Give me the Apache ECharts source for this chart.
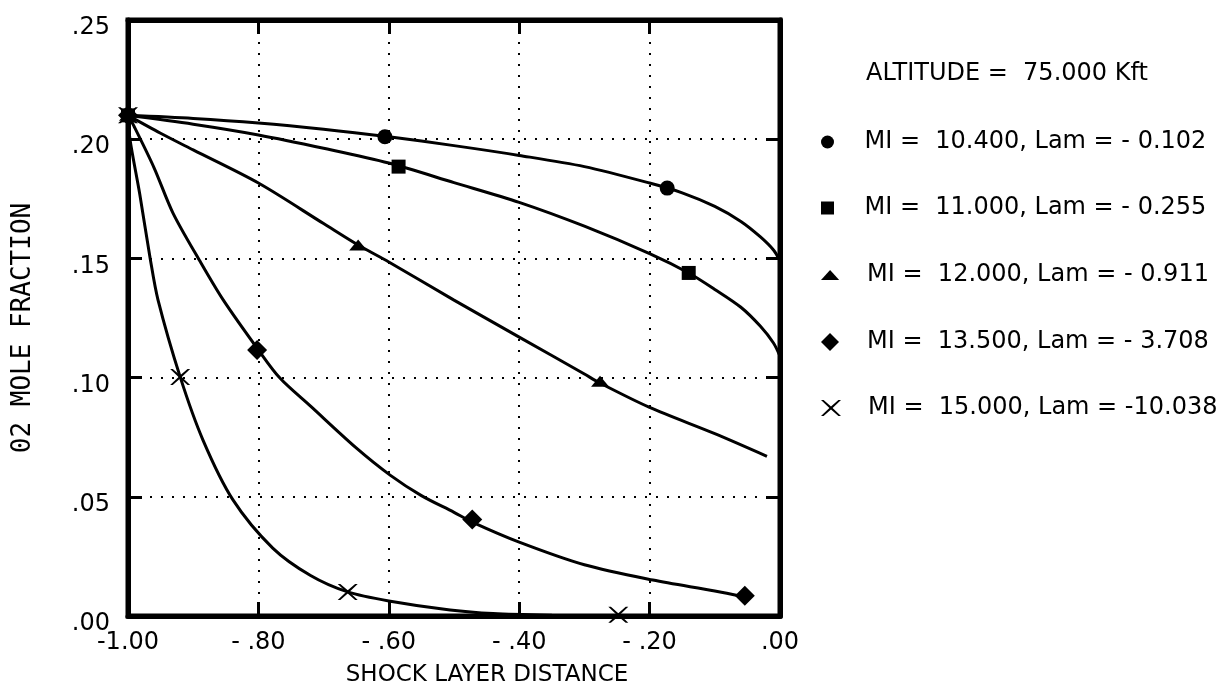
<!DOCTYPE html>
<html>
<head>
<meta charset="utf-8">
<title>O2 mole fraction vs shock layer distance</title>
<script src="https://cdn.jsdelivr.net/npm/echarts@6/dist/echarts.min.js"></script>
<style>
  html, body { margin: 0; padding: 0; background: #fff; }
  #chart { width: 1230px; height: 697px; }
</style>
</head>
<body>
<div id="chart"></div>
<script>
// tick labels
const xTickLabels = ['-1.00', '- .80', '- .60', '- .40', '- .20', '.00'];
const yTickLabels = ['.00', '.05', '.10', '.15', '.20', '.25'];

// legend text
const caseNames = [
  'MI =  10.400, Lam = - 0.102',
  'MI =  11.000, Lam = - 0.255',
  'MI =  12.000, Lam = - 0.911',
  'MI =  13.500, Lam = - 3.708',
  'MI =  15.000, Lam = -10.038'
];

// curves [distance, O2 fraction]
const curve1 = [[-1, 0.21], [-0.9, 0.2087], [-0.8, 0.2068], [-0.7, 0.2042], [-0.6, 0.201], [-0.5, 0.1973],
  [-0.4, 0.1932], [-0.3, 0.1885], [-0.2, 0.1816], [-0.15, 0.1775], [-0.1, 0.1718], [-0.06, 0.1655],
  [-0.03, 0.159], [-0.01, 0.1535], [0, 0.149]];
const curve2 = [[-1, 0.21], [-0.9, 0.2063], [-0.8, 0.2018], [-0.7, 0.1962], [-0.6, 0.19], [-0.5, 0.1818],
  [-0.4, 0.1735], [-0.3, 0.1635], [-0.2, 0.152], [-0.14, 0.1439], [-0.1, 0.137],
  [-0.06, 0.1295], [-0.03, 0.1215], [-0.01, 0.1145], [0, 0.109]];
const curve3 = [[-1, 0.21], [-0.95, 0.2025], [-0.9, 0.1955], [-0.8, 0.1816], [-0.7, 0.1646], [-0.647, 0.1556],
  [-0.6, 0.1485], [-0.5, 0.1325], [-0.4, 0.117], [-0.3, 0.1015], [-0.276, 0.0977], [-0.2, 0.0875],
  [-0.1, 0.0765], [-0.02, 0.067]];
const curve4 = [[-1, 0.21], [-0.99, 0.205], [-0.96, 0.188], [-0.931, 0.169], [-0.89, 0.149], [-0.854, 0.1326],
  [-0.8, 0.1116], [-0.767, 0.0998], [-0.72, 0.088], [-0.65, 0.0705], [-0.598, 0.0591],
  [-0.55, 0.0505], [-0.5, 0.0435], [-0.472, 0.0394], [-0.4, 0.031], [-0.3, 0.0215], [-0.195, 0.0151],
  [-0.1, 0.0105], [-0.054, 0.008]];
const curve5 = [[-1, 0.21], [-0.997, 0.2], [-0.982, 0.177], [-0.966, 0.15], [-0.954, 0.1326],
  [-0.92, 0.1003], [-0.885, 0.0738], [-0.839, 0.0487], [-0.778, 0.0285], [-0.72, 0.017],
  [-0.663, 0.0101], [-0.6, 0.0063], [-0.506, 0.0025], [-0.44, 0.001], [-0.35, 0.0003], [-0.25, 0]];

// plotted symbols
const marks1 = [[-1, 0.21], [-0.606, 0.201], [-0.173, 0.1795]];
const marks2 = [[-1, 0.21], [-0.585, 0.1885], [-0.14, 0.1439]];
const marks3 = [[-1, 0.21], [-0.647, 0.1556], [-0.276, 0.0985]];
const marks4 = [[-1, 0.21], [-0.802, 0.1116], [-0.472, 0.0405], [-0.054, 0.0085]];
const marks5 = [[-1, 0.21], [-0.92, 0.1003], [-0.663, 0.0101], [-0.248, 0.0005]];

const curves = [curve1, curve2, curve3, curve4, curve5];
const marks = [marks1, marks2, marks3, marks4, marks5];

const FONT = 'DejaVu Sans';
const xShape = 'path://M0,0L2.6,0L10,6.4L17.4,0L20,0L11.6,8L20,16L17.4,16L10,9.6L2.6,16L0,16L8.4,8Z';
const symbols = ['circle', 'path://M0,0H10V10H0Z', 'path://M10,0L20,11L0,11Z', 'path://M9,0L18,9L9,18L0,9Z', xShape];
const markSizes = [15, 14, [18, 11], [20, 20], [20, 16]];
const iconHeights = [13, 13, 10, 18, 16];
const legendRows = [142, 208, 275, 342, 408];

const chart = echarts.init(document.getElementById('chart'));

const series = [];
curves.forEach((c, i) => {
  series.push({
    type: 'line',
    name: 'curve' + i,
    data: c,
    showSymbol: false,
    smooth: 0.3,
    lineStyle: { color: '#000', width: 3 },
    silent: true,
    z: 3
  });
});
marks.forEach((m, i) => {
  series.push({
    type: 'scatter',
    name: caseNames[i],
    data: m,
    symbol: symbols[i],
    symbolSize: markSizes[i],
    itemStyle: { color: '#000', opacity: 1 },
    z: 4
  });
});

const legends = caseNames.map((name, i) => ({
  data: [{ name: name, icon: symbols[i] }],
  left: 821,
  top: legendRows[i] - 12,
  padding: 0,
  itemWidth: 64,
  itemHeight: iconHeights[i],
  itemGap: 0,
  selectedMode: false,
  textStyle: { fontFamily: FONT, fontSize: 24, color: '#000', lineHeight: 24 }
}));

const xIdx = v => Math.round((v + 1) / 0.2);
const yIdx = v => Math.round(v / 0.05);

// fresh objects per axis
const tickStyle = () => ({ show: true, inside: true, length: 14, lineStyle: { color: '#000', width: 3 } });
const dotted = () => ({ show: true, lineStyle: { color: '#000', width: 2, type: [2, 9] } });
const frame = () => ({ show: true, onZero: false, lineStyle: { color: '#000', width: 5 } });

chart.setOption({
  backgroundColor: '#fff',
  animation: false,
  title: {
    text: 'ALTITUDE =  75.000 Kft',
    left: 866,
    top: 62,
    padding: 0,
    textStyle: { fontFamily: FONT, fontSize: 24, fontWeight: 'normal', color: '#000' }
  },
  legend: legends,
  grid: {
    left: 128, right: 450, top: 20, bottom: 81,
    show: true, borderColor: '#000', borderWidth: 5, backgroundColor: 'transparent'
  },
  xAxis: [{
    type: 'value', min: -1, max: 0, interval: 0.2, position: 'bottom',
    axisLine: frame(),
    axisTick: tickStyle(),
    splitLine: dotted(),
    axisLabel: {
      fontFamily: FONT, fontSize: 24, color: '#000', margin: 15,
      formatter: v => xTickLabels[xIdx(v)]
    },
    name: 'SHOCK LAYER DISTANCE',
    nameLocation: 'middle',
    nameGap: 48,
    nameTextStyle: { fontFamily: FONT, fontSize: 23, color: '#000', padding: [0, 0, 0, 66] }
  }, {
    type: 'value', min: -1, max: 0, interval: 0.2, position: 'top',
    axisLine: frame(),
    axisTick: tickStyle(),
    axisLabel: { show: false },
    splitLine: { show: false }
  }],
  yAxis: [{
    type: 'value', min: 0, max: 0.25, interval: 0.05, position: 'left',
    axisLine: frame(),
    axisTick: tickStyle(),
    splitLine: dotted(),
    axisLabel: {
      fontFamily: FONT, fontSize: 24, color: '#000', margin: 18,
      verticalAlign: 'top', lineHeight: 16,
      formatter: v => yTickLabels[yIdx(v)]
    },
    name: '02 MOLE FRACTION',
    nameLocation: 'middle',
    nameGap: 92,
    nameRotate: 90,
    nameTextStyle: { fontFamily: 'DejaVu Sans Mono', fontSize: 26, color: '#000', padding: [0, 20, 0, 0] }
  }, {
    type: 'value', min: 0, max: 0.25, interval: 0.05, position: 'right',
    axisLine: frame(),
    axisTick: tickStyle(),
    axisLabel: { show: false },
    splitLine: { show: false }
  }],
  series: series
});
</script>
</body>
</html>
